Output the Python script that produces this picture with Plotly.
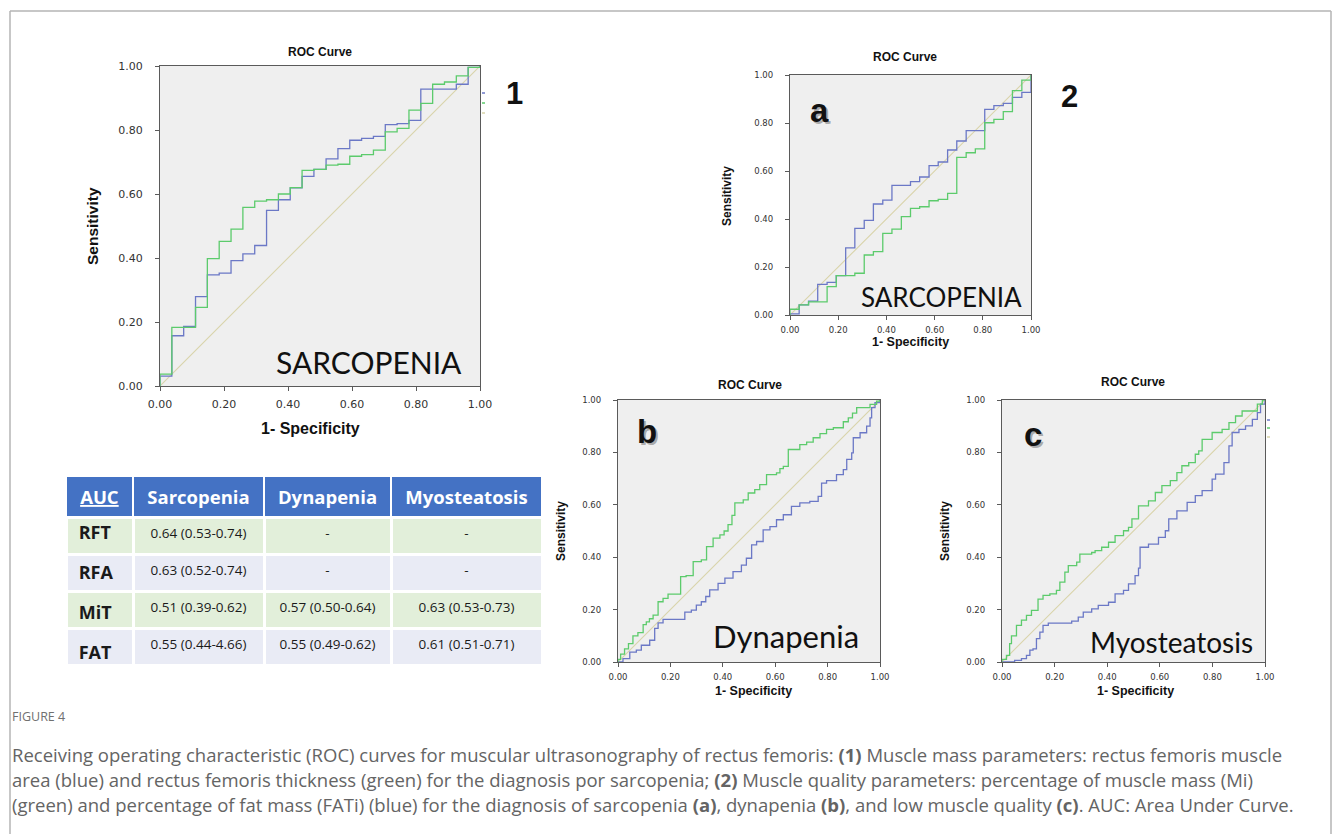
import plotly.graph_objects as go

W, H = 1335, 834

# ---------------- data ----------------
tick_vals = [0, 0.2, 0.4, 0.6, 0.8, 1.0]
tick_text = ["0.00", "0.20", "0.40", "0.60", "0.80", "1.00"]
diag = [0.0, 1.0]

# Panel 1: sarcopenia, muscle mass parameters (blue = RFA, green = RFT)
p1_fpr = [0, 0, 0.037, 0.074, 0.111, 0.148, 0.185, 0.222, 0.259, 0.296, 0.333, 0.370,
          0.407, 0.444, 0.481, 0.519, 0.556, 0.593, 0.630, 0.667, 0.704, 0.741, 0.778,
          0.815, 0.852, 0.889, 0.926, 0.963, 1.0]
p1_rfa = [0, 0.031, 0.157, 0.186, 0.279, 0.347, 0.353, 0.392, 0.413, 0.439, 0.549, 0.582,
          0.619, 0.655, 0.677, 0.71, 0.742, 0.768, 0.774, 0.78, 0.817, 0.82, 0.83, 0.928,
          0.928, 0.928, 0.943, 0.996, 1.0]
p1_rft = [0, 0.037, 0.183, 0.183, 0.246, 0.398, 0.452, 0.49, 0.558, 0.578, 0.582, 0.60,
          0.62, 0.674, 0.677, 0.69, 0.693, 0.718, 0.723, 0.737, 0.794, 0.805, 0.862, 0.883,
          0.943, 0.95, 0.969, 0.996, 1.0]

# Panel 2a: sarcopenia, muscle quality (blue = FATi, green = Mi)
pa_fpr = [0, 0, 0.038, 0.077, 0.115, 0.154, 0.192, 0.231, 0.269, 0.308, 0.346, 0.385,
          0.423, 0.462, 0.5, 0.538, 0.577, 0.615, 0.654, 0.692, 0.731, 0.769, 0.808,
          0.846, 0.885, 0.923, 0.962, 1.0, 1.0]
pa_fati = [0, 0.005, 0.042, 0.058, 0.128, 0.136, 0.164, 0.28, 0.361, 0.394, 0.4625, 0.479,
           0.54, 0.54, 0.556, 0.575, 0.622, 0.6375, 0.6875, 0.725, 0.768, 0.768, 0.857,
           0.872, 0.882, 0.907, 0.928, 0.928, 1.0]
pa_mi = [0, 0.024, 0.042, 0.055, 0.055, 0.118, 0.164, 0.164, 0.174, 0.25, 0.264, 0.34,
         0.358, 0.41, 0.444, 0.451, 0.476, 0.482, 0.507, 0.657, 0.676, 0.692, 0.801,
         0.815, 0.847, 0.935, 0.979, 0.979, 1.0]

# Panel 2b: dynapenia (fpr, tpr)
pb_mi = [(0, 0), (0, 0.01), (0.01, 0.03), (0.025, 0.05), (0.04, 0.07), (0.057, 0.1),
         (0.076, 0.112), (0.096, 0.143), (0.108, 0.153), (0.12, 0.165), (0.134, 0.179),
         (0.153, 0.23), (0.172, 0.243), (0.191, 0.259), (0.239, 0.326), (0.26, 0.33),
         (0.287, 0.383), (0.318, 0.39), (0.338, 0.44), (0.363, 0.473), (0.389, 0.485),
         (0.405, 0.5), (0.42, 0.524), (0.435, 0.56), (0.446, 0.607), (0.478, 0.619),
         (0.497, 0.645), (0.522, 0.658), (0.541, 0.677), (0.567, 0.715), (0.605, 0.722),
         (0.618, 0.738), (0.631, 0.747), (0.65, 0.811), (0.694, 0.83), (0.72, 0.839),
         (0.745, 0.856), (0.771, 0.872), (0.796, 0.888), (0.822, 0.894), (0.86, 0.917),
         (0.879, 0.932), (0.895, 0.95), (0.911, 0.971), (0.962, 0.983), (0.987, 0.996),
         (1.0, 1.0)]
pb_fati = [(0, 0), (0.019, 0.013), (0.045, 0.038), (0.07, 0.045), (0.089, 0.064),
           (0.121, 0.083), (0.14, 0.128), (0.153, 0.149), (0.172, 0.163), (0.255, 0.19),
           (0.28, 0.198), (0.299, 0.217), (0.318, 0.23), (0.335, 0.25), (0.35, 0.275),
           (0.382, 0.3), (0.408, 0.32), (0.439, 0.345), (0.471, 0.37), (0.49, 0.396),
           (0.51, 0.447), (0.529, 0.46), (0.554, 0.504), (0.58, 0.517), (0.605, 0.543),
           (0.631, 0.562), (0.662, 0.594), (0.694, 0.607), (0.732, 0.613), (0.764, 0.632),
           (0.777, 0.683), (0.796, 0.692), (0.834, 0.715), (0.86, 0.734), (0.873, 0.773),
           (0.892, 0.798), (0.898, 0.856), (0.924, 0.875), (0.949, 0.9), (0.962, 0.932),
           (0.968, 0.971), (0.981, 0.99), (1.0, 1.0)]

# Panel 2c: myosteatosis (fpr, tpr)
pc_mi = [(0, 0), (0, 0.01), (0.017, 0.025), (0.029, 0.07), (0.036, 0.1), (0.055, 0.14),
         (0.074, 0.16), (0.093, 0.178), (0.112, 0.197), (0.137, 0.24), (0.156, 0.254),
         (0.182, 0.26), (0.207, 0.273), (0.22, 0.305), (0.239, 0.343), (0.252, 0.368),
         (0.284, 0.381), (0.296, 0.412), (0.341, 0.418), (0.354, 0.425), (0.379, 0.438),
         (0.405, 0.457), (0.43, 0.482), (0.462, 0.501), (0.481, 0.514), (0.494, 0.546),
         (0.519, 0.596), (0.557, 0.615), (0.583, 0.647), (0.608, 0.673), (0.64, 0.692),
         (0.665, 0.723), (0.684, 0.749), (0.71, 0.761), (0.735, 0.793), (0.748, 0.806),
         (0.761, 0.85), (0.799, 0.876), (0.837, 0.888), (0.863, 0.914), (0.888, 0.939),
         (0.913, 0.958), (0.971, 0.984), (0.99, 1.0), (1.0, 1.0)]
pc_fati = [(0, 0), (0.048, 0.006), (0.074, 0.013), (0.093, 0.025), (0.106, 0.045),
           (0.118, 0.05), (0.131, 0.089), (0.144, 0.114), (0.156, 0.14), (0.176, 0.148),
           (0.265, 0.156), (0.29, 0.171), (0.309, 0.19), (0.341, 0.203), (0.366, 0.216),
           (0.405, 0.228), (0.43, 0.26), (0.462, 0.273), (0.481, 0.298), (0.506, 0.33),
           (0.519, 0.358), (0.525, 0.438), (0.557, 0.45), (0.595, 0.476), (0.621, 0.501),
           (0.634, 0.546), (0.665, 0.577), (0.704, 0.609), (0.735, 0.635), (0.761, 0.654),
           (0.799, 0.698), (0.812, 0.717), (0.844, 0.761), (0.863, 0.825), (0.875, 0.876),
           (0.901, 0.888), (0.926, 0.901), (0.952, 0.926), (0.971, 0.952), (0.983, 0.984),
           (1.0, 1.0)]

# AUC table
table_header = ["<u>AUC</u>", "Sarcopenia", "Dynapenia", "Myosteatosis"]
row_labels = ["RFT", "RFA", "MiT", "FAT"]
auc_sarcopenia = ["0.64 (0.53-0.74)", "0.63 (0.52-0.74)", "0.51 (0.39-0.62)", "0.55 (0.44-4.66)"]
auc_dynapenia = ["-", "-", "0.57 (0.50-0.64)", "0.55 (0.49-0.62)"]
auc_myosteatosis = ["-", "-", "0.63 (0.53-0.73)", "0.61 (0.51-0.71)"]

caption_label = "FIGURE 4"
caption_lines = [
    "Receiving operating characteristic (ROC) curves for muscular ultrasonography of rectus femoris: "
    "<b>(1)</b> Muscle mass parameters: rectus femoris muscle",
    "area (blue) and rectus femoris thickness (green) for the diagnosis por sarcopenia; "
    "<b>(2)</b> Muscle quality parameters: percentage of muscle mass (Mi)",
    "(green) and percentage of fat mass (FATi) (blue) for the diagnosis of sarcopenia <b>(a)</b>, "
    "dynapenia <b>(b)</b>, and low muscle quality <b>(c)</b>. AUC: Area Under Curve.",
]

# ---------------- styling ----------------
BLUE = "#6b78c6"
GREEN = "#5ccb6c"
DIAG = "#d9d4aa"
AXC = "#5a5a5a"
PLOT_BG = "#efefef"
CLEAR = "rgba(0,0,0,0)"


def px_x(x):
    return x / W


def px_y(y):
    return 1 - y / H


def unzip(pairs):
    return [p[0] for p in pairs], [p[1] for p in pairs]


pb_mi_x, pb_mi_y = unzip(pb_mi)
pb_fa_x, pb_fa_y = unzip(pb_fati)
pc_mi_x, pc_mi_y = unzip(pc_mi)
pc_fa_x, pc_fa_y = unzip(pc_fati)

panels = [
    dict(box=(160, 480, 66, 386), tick=11, series=[(p1_fpr, p1_rfa, BLUE), (p1_fpr, p1_rft, GREEN)],
         ystand=10, xstand=4),
    dict(box=(790, 1031, 75, 315), tick=8.5, series=[(pa_fpr, pa_fati, BLUE), (pa_fpr, pa_mi, GREEN)],
         ystand=10, xstand=3),
    dict(box=(618, 880, 400, 662), tick=8.5, series=[(pb_fa_x, pb_fa_y, BLUE), (pb_mi_x, pb_mi_y, GREEN)],
         ystand=10, xstand=3),
    dict(box=(1002, 1265, 400, 662), tick=8.5, series=[(pc_fa_x, pc_fa_y, BLUE), (pc_mi_x, pc_mi_y, GREEN)],
         ystand=10, xstand=3),
]

fig = go.Figure()
layout_axes = {}
for i, p in enumerate(panels, start=1):
    sfx = "" if i == 1 else str(i)
    xa, ya = "x" + sfx, "y" + sfx
    l, r, t, b = p["box"]
    fig.add_trace(go.Scatter(x=diag, y=diag, mode="lines", xaxis=xa, yaxis=ya,
                             line=dict(color=DIAG, width=1.1), hoverinfo="skip", showlegend=False))
    for xs, ys, col in p["series"]:
        fig.add_trace(go.Scatter(x=xs, y=ys, mode="lines", xaxis=xa, yaxis=ya,
                                 line=dict(color=col, width=1.3, shape="hv"), showlegend=False))
    common = dict(range=[0, 1], tickvals=tick_vals, ticktext=tick_text, ticks="outside", ticklen=4,
                  tickcolor=AXC, tickwidth=1, showline=True, linecolor=AXC, linewidth=1.2, mirror=True,
                  showgrid=False, zeroline=False, fixedrange=True, automargin=False,
                  tickfont=dict(family="DejaVu Sans", size=p["tick"], color="#333"))
    layout_axes["xaxis" + sfx] = dict(common, domain=[px_x(l), px_x(r)], anchor=ya,
                                      ticklabelstandoff=p["xstand"])
    layout_axes["yaxis" + sfx] = dict(common, domain=[px_y(b), px_y(t)], anchor=xa,
                                      ticklabelstandoff=p["ystand"])

fig.update_layout(**layout_axes)

# AUC table: one trace for the coloured grid + header, two transparent text overlays
row_fills = ["#e2efda", "#e9ebf5", "#e2efda", "#e9ebf5"]
HDR_H, ROW_H = 36, 37
col_w = [67, 131, 127, 151]
fig.add_trace(go.Table(
    domain=dict(x=[px_x(66), px_x(542)], y=[px_y(668), px_y(476)]),
    columnwidth=col_w,
    header=dict(values=["<b>%s</b>" % h for h in table_header], fill_color="#4472c4",
                line=dict(color="white", width=2), align="center", height=HDR_H,
                font=dict(family="Open Sans", size=18.5, color="white")),
    cells=dict(values=[[""] * 4] * 4, fill_color=[row_fills] * 4, line=dict(color="white", width=3),
               height=ROW_H, font=dict(size=12)),
))
# row labels (bold, larger)
fig.add_trace(go.Table(
    domain=dict(x=[px_x(66), px_x(133)], y=[px_y(672), px_y(475.5)]),
    header=dict(values=[""], fill_color=CLEAR, line=dict(color=CLEAR, width=0), height=HDR_H),
    cells=dict(values=[["<b> %s</b>" % r for r in row_labels]], fill_color=CLEAR,
               line=dict(color=CLEAR, width=0), align="left", height=ROW_H,
               font=dict(family="Open Sans", size=18, color="#1a1a1a")),
))
# AUC values
fig.add_trace(go.Table(
    domain=dict(x=[px_x(133), px_x(542)], y=[px_y(676), px_y(483.5)]),
    columnwidth=col_w[1:],
    header=dict(values=["", "", ""], fill_color=CLEAR, line=dict(color=CLEAR, width=0), height=HDR_H),
    cells=dict(values=[auc_sarcopenia, auc_dynapenia, auc_myosteatosis], fill_color=CLEAR,
               line=dict(color=CLEAR, width=0), align="center", height=ROW_H,
               font=dict(family="Open Sans", size=13.5, color="#1a1a1a")),
))

annotations = []


def txt(x, y, text, size, bold=False, family="Liberation Sans", color="#111", angle=0, xanchor="center"):
    annotations.append(dict(x=px_x(x), y=px_y(y), xref="paper", yref="paper",
                            text=("<b>%s</b>" % text) if bold else text,
                            showarrow=False, textangle=angle, xanchor=xanchor, yanchor="middle",
                            font=dict(family=family, size=size, color=color)))


# chart titles & axis titles
txt(320, 52, "ROC Curve", 12, bold=True)
txt(905, 57, "ROC Curve", 12, bold=True)
txt(750, 385, "ROC Curve", 12, bold=True)
txt(1133, 382, "ROC Curve", 12, bold=True)
txt(93, 226, "Sensitivity", 15.5, bold=True, angle=-90)
txt(310, 428, "1- Specificity", 16, bold=True)
txt(727, 196, "Sensitivity", 12, bold=True, angle=-90)
txt(910, 342, "1- Specificity", 12.5, bold=True)
txt(561, 531, "Sensitivity", 12, bold=True, angle=-90)
txt(753, 691, "1- Specificity", 12.5, bold=True)
txt(945, 531, "Sensitivity", 12, bold=True, angle=-90)
txt(1135, 691, "1- Specificity", 12.5, bold=True)

# panel numbers / letters (letters with soft shadow)
txt(514, 94, "1", 31, bold=True)
txt(1069, 97, "2", 31, bold=True)
for (lx, ly, lt) in [(819, 110, "a"), (647, 431, "b"), (1033, 434, "c")]:
    txt(lx + 2, ly + 2, lt, 33, bold=True, color="rgba(0,0,0,0.3)")
    txt(lx, ly, lt, 33, bold=True, color="#111")

# condition labels inside plots
txt(369, 362, "SARCOPENIA", 30, family="Lato", color="#111")
txt(941, 297, "SARCOPENIA", 26, family="Lato", color="#111")
txt(786, 636, "Dynapenia", 31, family="Lato", color="#111")
txt(1171, 642, "Myosteatosis", 28, family="Lato", color="#111")

# caption
txt(10, 716, caption_label, 12.5, family="Open Sans", color="#707070", xanchor="left")
for k, line in enumerate(caption_lines):
    txt(10, 754 + 25 * k, line, 18.5, family="Open Sans", color="#646464", xanchor="left")

shapes = []
# outer frame (top, left, right)
for (x0, y0, x1, y1) in [(10, 11, 1331, 11), (10, 11, 10, 834), (1331, 11, 1331, 834)]:
    shapes.append(dict(type="line", xref="paper", yref="paper", x0=px_x(x0), y0=px_y(y0), x1=px_x(x1),
                       y1=px_y(y1), line=dict(color="#b5b5b5", width=1.5)))
# clipped legend remnants beside panels 1 and c
for (x0, y0, col) in [(482, 93, BLUE), (482, 103, GREEN), (482, 113, DIAG),
                      (1267, 420, BLUE), (1267, 428, GREEN), (1267, 437, DIAG)]:
    shapes.append(dict(type="line", xref="paper", yref="paper", x0=px_x(x0), y0=px_y(y0), x1=px_x(x0 + 3),
                       y1=px_y(y0), line=dict(color=col, width=1.5)))

fig.update_layout(width=W, height=H, margin=dict(l=0, r=0, t=0, b=0, autoexpand=False), paper_bgcolor="white",
                  plot_bgcolor=PLOT_BG, showlegend=False, annotations=annotations, shapes=shapes)

fig.write_html("out.html", post_script="document.body.style.margin='0px';")
